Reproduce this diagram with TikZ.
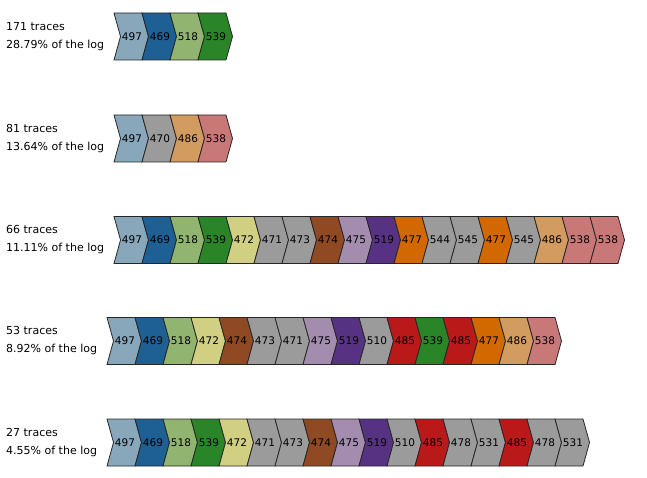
\documentclass[tikz,border=0pt]{standalone}
\usepackage{fontspec}
\setmainfont{DejaVu Sans}
\usepackage{tikz}

\definecolor{c497}{RGB}{136,167,187}
\definecolor{c469}{RGB}{30,95,148}
\definecolor{c518}{RGB}{145,180,112}
\definecolor{c539}{RGB}{42,133,40}
\definecolor{c472}{RGB}{208,207,130}
\definecolor{c474}{RGB}{143,73,35}
\definecolor{c475}{RGB}{164,140,175}
\definecolor{c519}{RGB}{88,50,130}
\definecolor{c477}{RGB}{210,105,0}
\definecolor{c486}{RGB}{210,155,95}
\definecolor{c538}{RGB}{201,120,120}
\definecolor{c485}{RGB}{185,25,25}
\definecolor{cgrey}{RGB}{155,155,155}
\colorlet{c470}{cgrey}
\colorlet{c471}{cgrey}
\colorlet{c473}{cgrey}
\colorlet{c544}{cgrey}
\colorlet{c545}{cgrey}
\colorlet{c510}{cgrey}
\colorlet{c478}{cgrey}
\colorlet{c531}{cgrey}

\begin{document}
\begin{tikzpicture}[x=1pt,y=-1pt,
  chev/.style={draw=black!85,line width=0.8pt,line join=miter},
  code/.style={font=\fontsize{10.5}{10.5}\selectfont,inner sep=0pt},
  info/.style={font=\fontsize{11}{18}\selectfont,align=left,anchor=west,inner sep=0pt}]
\useasboundingbox (0,0) rectangle (647,478);
% one row per variant: label, then the chain of events
\foreach \r/\x/\y/\n/\p/\seq in {
    1/114/36.5/171/28.79/{497,469,518,539},
    2/114/138.5/81/13.64/{497,470,486,538},
    3/114/240/66/11.11/{497,469,518,539,472,471,473,474,475,519,477,544,545,477,545,486,538,538},
    4/107/341/53/8.92/{497,469,518,472,474,473,471,475,519,510,485,539,485,477,486,538},
    5/107/442.5/27/4.55/{497,469,518,539,472,471,473,474,475,519,510,485,478,531,485,478,531}} {
  \node[info] (lab\r) at (6,\y) {\n\ traces\\\p\% of the log};
  \foreach \c [count=\i from 0] in \seq {
    \draw[chev,fill=c\c] ({\x+28*\i},{\y-23.5}) -- ++(28,0) -- ++(6.5,23.5)
      -- ++(-6.5,23.5) -- ++(-28,0) -- ++(6.5,-23.5) -- cycle;
    \node[code] (s\r-\i) at ({\x+28*\i+18},\y) {\c};
  }
}
\end{tikzpicture}
\end{document}
